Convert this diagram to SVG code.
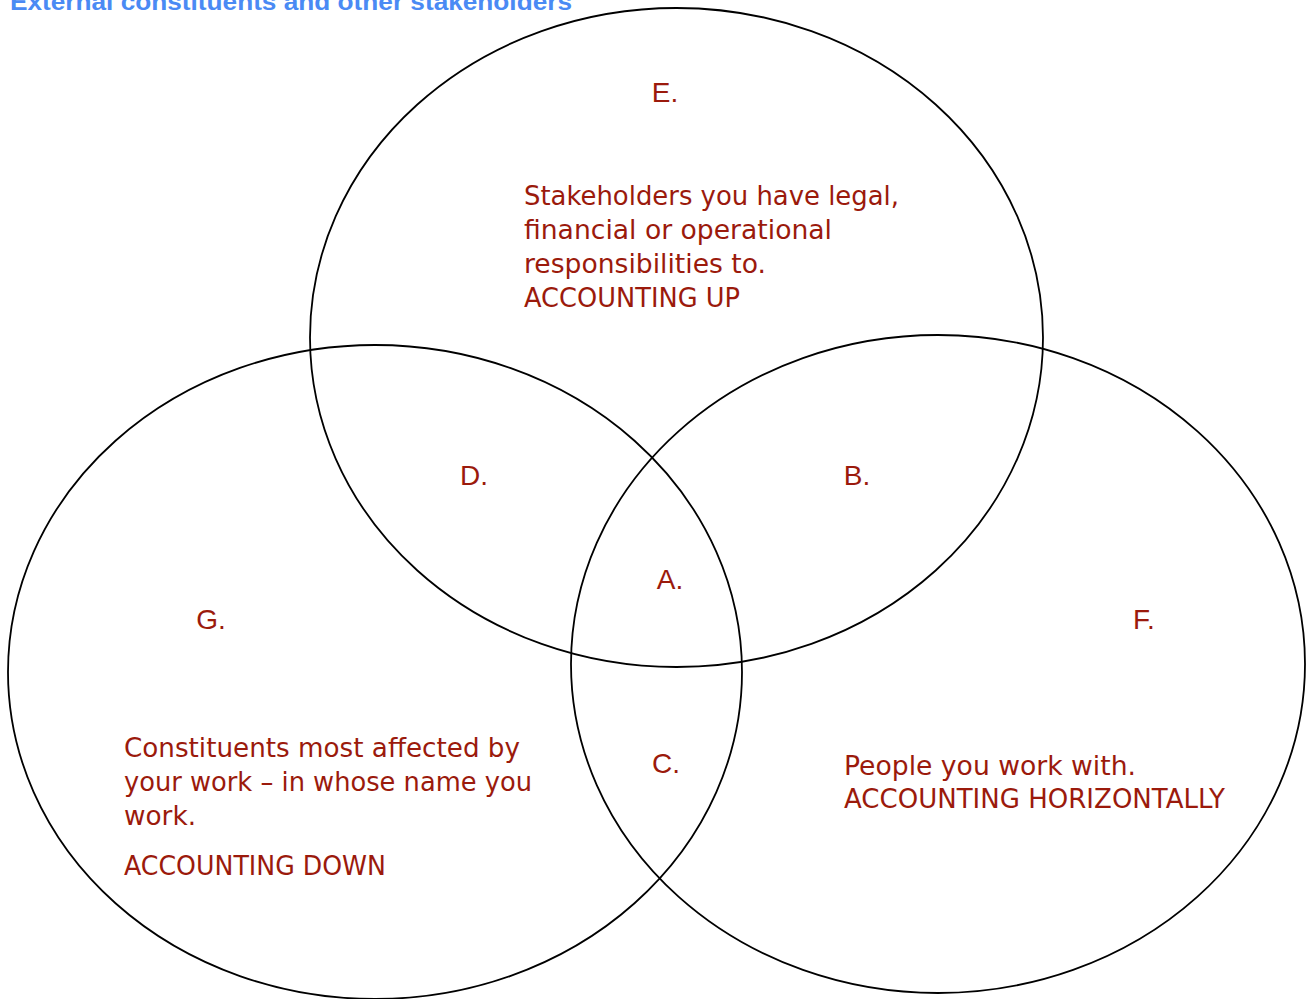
<svg xmlns="http://www.w3.org/2000/svg" width="1307" height="999" viewBox="0 0 1307 999">
<style>
.c{fill:none;stroke:#000;stroke-width:1.8}
.l{font-family:"Liberation Sans",Arial,sans-serif;font-size:28px;fill:#9b1a0c}
.t{font-family:"DejaVu Sans","Noto Sans",sans-serif;font-size:26px;fill:#9b1a0c}
.h{font-family:"Liberation Sans",Arial,sans-serif;font-size:24px;font-weight:bold;fill:#4a8af4}
</style>
<rect width="1307" height="999" fill="#fff"/>
<text class="h" x="10" y="10" textLength="562" lengthAdjust="spacingAndGlyphs">External constituents and other stakeholders</text>
<g id="circle-e">
<ellipse class="c" cx="676.5" cy="337.5" rx="366.5" ry="329.5"/>
<text class="l" x="665" y="102" text-anchor="middle">E.</text>
<text class="t" x="524" y="205" textLength="375" lengthAdjust="spacingAndGlyphs">Stakeholders you have legal,</text>
<text class="t" x="524" y="239" textLength="308" lengthAdjust="spacingAndGlyphs">financial or operational</text>
<text class="t" x="524" y="273" textLength="242" lengthAdjust="spacingAndGlyphs">responsibilities to.</text>
<text class="t" x="524" y="307" textLength="216" lengthAdjust="spacingAndGlyphs">ACCOUNTING UP</text>
</g>
<g id="circle-g">
<ellipse class="c" cx="375" cy="672" rx="367" ry="327"/>
<text class="l" x="211" y="629" text-anchor="middle">G.</text>
<text class="t" x="124" y="757" textLength="396" lengthAdjust="spacingAndGlyphs">Constituents most affected by</text>
<text class="t" x="124" y="791" textLength="408" lengthAdjust="spacingAndGlyphs">your work – in whose name you</text>
<text class="t" x="124" y="825" textLength="72" lengthAdjust="spacingAndGlyphs">work.</text>
<text class="t" x="124" y="875" textLength="262" lengthAdjust="spacingAndGlyphs">ACCOUNTING DOWN</text>
</g>
<g id="circle-f">
<ellipse class="c" cx="938" cy="664" rx="367" ry="329"/>
<text class="l" x="1144" y="629" text-anchor="middle">F.</text>
<text class="t" x="844" y="775" textLength="292" lengthAdjust="spacingAndGlyphs">People you work with.</text>
<text class="t" x="844" y="808" textLength="381" lengthAdjust="spacingAndGlyphs">ACCOUNTING HORIZONTALLY</text>
</g>
<g id="regions">
<text class="l" x="474" y="485" text-anchor="middle">D.</text>
<text class="l" x="857" y="485" text-anchor="middle">B.</text>
<text class="l" x="670" y="589" text-anchor="middle">A.</text>
<text class="l" x="666" y="773" text-anchor="middle">C.</text>
</g>
</svg>
